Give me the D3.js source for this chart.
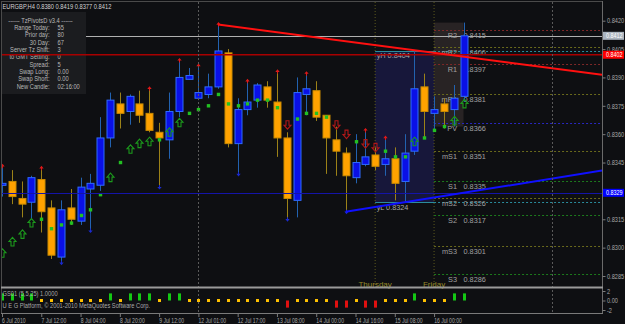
<!DOCTYPE html>
<html><head><meta charset="utf-8">
<script src="https://cdn.jsdelivr.net/npm/d3@7"></script>
<style>html,body{margin:0;padding:0;background:#0e0f12;overflow:hidden}</style>
</head><body><svg id="c" width="625" height="324"></svg>
<script>
// ---------- DATA ----------
const titleText = "EURGBP,H4  0.8380 0.8419 0.8377 0.8412";
const openP  = [0.8333,0.8335,0.8326,0.8324,0.8336,0.8321,0.8295,0.8321,0.8314,0.8331,0.8333,0.8358,0.8376,0.8372,0.8376,0.8371,0.8361,0.8357,0.8372,0.8389,0.8379,0.8381,0.8385,0.8403,0.8355,0.8373,0.8378,0.8385,0.8377,0.8358,0.8325,0.8381,0.8383,0.8370,0.8357,0.8350,0.8337,0.8344,0.8349,0.8344,0.8347,0.8335,0.8351,0.8385,0.8371,0.8376,0.8373,0.8380];
const highP  = [0.8343,0.8341,0.8335,0.8338,0.8342,0.8325,0.8325,0.8331,0.8337,0.8339,0.8369,0.8382,0.8382,0.8381,0.8383,0.8384,0.8366,0.8382,0.8399,0.8395,0.8396,0.8392,0.8418,0.8405,0.8379,0.8388,0.8387,0.8388,0.8393,0.8361,0.8390,0.8392,0.8388,0.8370,0.8364,0.8353,0.8360,0.8362,0.8353,0.8358,0.8353,0.8360,0.8404,0.8392,0.8380,0.8379,0.8386,0.8419];
const lowP   = [0.8327,0.8323,0.8316,0.8315,0.8308,0.8294,0.8292,0.8312,0.8312,0.8309,0.8330,0.8353,0.8363,0.8365,0.8366,0.8361,0.8332,0.8347,0.8369,0.8389,0.8378,0.8379,0.8384,0.8353,0.8339,0.8370,0.8374,0.8374,0.8348,0.8315,0.8316,0.8370,0.8367,0.8339,0.8338,0.8319,0.8334,0.8343,0.8341,0.8338,0.8325,0.8324,0.8349,0.8358,0.8362,0.8363,0.8364,0.8377];
const closeP = [0.8334,0.8327,0.8323,0.8337,0.8319,0.8296,0.8320,0.8315,0.8332,0.8334,0.8358,0.8378,0.8371,0.8380,0.8370,0.8362,0.8358,0.8372,0.8390,0.8391,0.8382,0.8385,0.8404,0.8355,0.8373,0.8377,0.8386,0.8378,0.8358,0.8326,0.8382,0.8384,0.8369,0.8358,0.8351,0.8338,0.8345,0.8348,0.8343,0.8347,0.8334,0.8350,0.8384,0.8372,0.8373,0.8372,0.8379,0.8412];
const sigValue = [0.8297,0.8303,0.8307,0.8313,0.8315,0.8310,0.8312,0.8313,0.8317,0.8320,0.8328,0.8337,0.8345,0.8352,0.8355,0.8356,0.8357,0.8361,0.8366,0.8371,0.8373,0.8375,0.8381,0.8376,0.8375,0.8376,0.8378,0.8378,0.8374,0.8365,0.8368,0.8371,0.8371,0.8369,0.8365,0.8360,0.8356,0.8355,0.8353,0.8351,0.8348,0.8348,0.8356,0.8358,0.8362,0.8364,0.8367,0.8376];
const gsValue = [1.5,1.5,1.5,1.5,0,0,0,0,0,0,0,1.5,0,1.5,1.5,1.5,0,1.5,1.5,0,0,0,0,0,0,0,0,0,0,-1.5,0,0,0,0,-1.5,-1.5,0,-1.5,-1.5,0,0,0,1.5,0,0,0,1.5,1.5];
const fractalUp = [0,4,15,18,20,22,25,28,31,37,39];
const fractalDown = [6,9,16,24,29,35];

const priceTicks = [0.8420,0.8405,0.8390,0.8375,0.8360,0.8345,0.8315,0.8300,0.8285];
const indTicks = [2,0,-2];
const timeTickBars = [0,4,8,12,16,20,24,28,32,36,40,44];
const timeTickLabels = ["6 Jul 2010","7 Jul 12:00","8 Jul 04:00","8 Jul 20:00","9 Jul 12:00","12 Jul 01:00","12 Jul 17:00","13 Jul 08:00","14 Jul 00:00","14 Jul 16:00","15 Jul 08:00","16 Jul 00:00"];

const bidPrice = 0.8412, redLevel = 0.8402, blueLevel = 0.8329;
const redTrend = [[22,0.8418],[47,0.8401]];
const blueTrend = [[35,0.8319],[41,0.8324]];

const pivotNames  = ["R2","mR2","R1","mR1","PV","mS1","S1","mS2","S2","mS3","S3"];
const pivotValues = [0.8415,0.8406,0.8397,0.8381,0.8366,0.8351,0.8335,0.8326,0.8317,0.8301,0.8286];
const dayStartBars = [38,44];
const dayNames = ["Thursday","Friday"];
const weekSepBars = [20,56];
const yHigh = 0.8404, yLow = 0.8324;
const todayHigh = 0.8419, todayLow = 0.8364, lastBar = 47;

const infoHeader = "------  TzPivotsD v3.4  ------";
const infoLabels = ["Range Today:","Prior day:","30 Day:","Server Tz Shift:","to GMT Setting:","Spread:","Swap Long:","Swap Short:","New Candle:"];
const infoValues = ["55","80","67","3","0","5","0.00","0.00","02:16:00"];
const indName = "GS01 (5,5,25) 1.0000";
const copyright = "U E G Platform, \u00a9 2001-2010 MetaQuotes Software Corp.";

// ---------- RENDER ----------
const SANS = "'Liberation Sans',Arial,sans-serif";
const svg = d3.select("#c");
const L = 2, R = 602, T = 2, B = 287, IB = 314;
const x = d3.scaleLinear().domain([0,61]).range([2,601]);
const y = d3.scaleLinear().domain([0.8285,0.8420]).range([276,20.7]);
const yInd = d3.scaleLinear().domain([-2,2]).range([310,291]);
const bars = d3.range(openP.length);

// narrow text via horizontal scale transform (MetaTrader-like small font)
function condense(sel, f){
  sel.each(function(){
    const xx = +(this.getAttribute("x")||0), yy = +(this.getAttribute("y")||0);
    this.setAttribute("x",0); this.setAttribute("y",0);
    this.setAttribute("transform",`translate(${xx},${yy}) scale(${f},1)`);
  });
  return sel;
}
function ntext(parent, xx, yy, str, size, fill, f, anchor){
  const t = parent.append("text").attr("x",xx).attr("y",yy).text(str)
    .attr("fill",fill).attr("font-family",SANS).attr("font-size",size).attr("text-anchor",anchor||"start");
  return condense(t, f);
}

svg.append("rect").attr("width",625).attr("height",324).attr("fill","#0e0f12");
const defs = svg.append("defs");
defs.append("clipPath").attr("id","mc").append("rect").attr("x",L).attr("y",T).attr("width",R-L).attr("height",B-T);
defs.append("clipPath").attr("id","ic").append("rect").attr("x",L).attr("y",B).attr("width",R-L).attr("height",IB-B);
const m = svg.append("g").attr("clip-path","url(#mc)");

// range boxes
m.append("rect").attr("x",x(dayStartBars[0])).attr("width",x(dayStartBars[1])-x(dayStartBars[0]))
 .attr("y",y(yHigh)).attr("height",y(yLow)-y(yHigh)).attr("fill","#17173a");
m.append("rect").attr("x",x(dayStartBars[1])).attr("width",x(lastBar)-x(dayStartBars[1]))
 .attr("y",y(todayHigh)).attr("height",y(todayLow)-y(todayHigh)).attr("fill","#282324");

// separators
m.selectAll(".ds").data(dayStartBars).join("line").attr("x1",d=>x(d)).attr("x2",d=>x(d)).attr("y1",T).attr("y2",B)
 .attr("stroke","#5c5a1e").attr("stroke-dasharray","1,2");
svg.selectAll(".ws").data(weekSepBars).join("line").attr("x1",d=>Math.round(x(d))+0.5).attr("x2",d=>Math.round(x(d))+0.5).attr("y1",T).attr("y2",IB)
 .attr("stroke","#5a5a5a").attr("stroke-dasharray","2,2");

// pivot lines
const pivColor = n => n==="PV" ? "#2828c0" : n[0]==="m" ? "#6a6a1c" : n[0]==="R" ? "#7e2828" : "#1c7a1c";
m.selectAll(".pl").data(pivotValues).join("line").attr("x1",x(dayStartBars[1])).attr("x2",R)
 .attr("y1",d=>Math.round(y(d))+0.5).attr("y2",d=>Math.round(y(d))+0.5)
 .attr("stroke",(d,i)=>pivColor(pivotNames[i])).attr("stroke-dasharray","2,2");
// yH / yL lines
[yHigh,yLow].forEach(v=>{
  const yy = Math.round(y(v))+0.5;
  m.append("line").attr("x1",x(dayStartBars[0])).attr("x2",x(dayStartBars[1])).attr("y1",yy).attr("y2",yy).attr("stroke","#2a8c9c");
  m.append("line").attr("x1",x(dayStartBars[1])).attr("x2",R).attr("y1",yy).attr("y2",yy).attr("stroke","#2a8c9c").attr("stroke-dasharray","2,2");
});
m.append("text").attr("x",x(dayStartBars[0])+1.5).attr("y",y(yHigh)+7.5).text("yH  "+yHigh.toFixed(4))
 .attr("fill","#a8a8a8").attr("font-family",SANS).attr("font-size",7.3);
m.append("text").attr("x",x(dayStartBars[0])+1.5).attr("y",y(yLow)+7.5).text("yL  "+yLow.toFixed(4))
 .attr("fill","#a8a8a8").attr("font-family",SANS).attr("font-size",7.3);

// bid line
m.append("line").attr("x1",L).attr("x2",R).attr("y1",Math.round(y(bidPrice))+0.5).attr("y2",Math.round(y(bidPrice))+0.5).attr("stroke","#b0b0b0");

// info panel
m.append("rect").attr("x",L).attr("y",12).attr("width",84).attr("height",82).attr("fill","#1b1c1f");
const infoFill = "#b8b8b8", infoSize = 7, CF = 0.82;
ntext(m, 40.5, 22.5, infoHeader, infoSize, infoFill, CF, "middle");
infoLabels.forEach((t,i)=>{
  const yy = 29.8 + 7.35*i;
  ntext(m, 49.5, yy, t, infoSize, infoFill, CF, "end");
  ntext(m, 57.5, yy, infoValues[i], infoSize, infoFill, CF, "start");
});

// pivot labels
pivotValues.forEach((v,i)=>{
  m.append("text").attr("x",457).attr("y",y(v)+8).attr("text-anchor","end").text(pivotNames[i])
   .attr("fill","#a0a0a0").attr("font-family",SANS).attr("font-size",7.3);
  m.append("text").attr("x",463.5).attr("y",y(v)+8).text(v.toFixed(4))
   .attr("fill","#a0a0a0").attr("font-family",SANS).attr("font-size",7.3);
});

// candles
const bull = i => closeP[i] >= openP[i];
m.selectAll(".wk").data(bars).join("line")
 .attr("x1",i=>Math.round(x(i))+0.5).attr("x2",i=>Math.round(x(i))+0.5)
 .attr("y1",i=>y(highP[i])).attr("y2",i=>y(lowP[i]))
 .attr("stroke",i=>bull(i)?"#2262b0":"#9c8218").attr("stroke-width",1);
m.selectAll(".bd").data(bars).join("rect")
 .attr("x",i=>Math.round(x(i))-3).attr("width",7)
 .attr("y",i=>y(Math.max(openP[i],closeP[i])))
 .attr("height",i=>Math.max(2,Math.abs(y(openP[i])-y(closeP[i]))))
 .attr("fill",i=>bull(i)?"#0a10e6":"#ffa200")
 .attr("stroke",i=>bull(i)?"#2f6cff":"#c88a00").attr("stroke-width",1);

// signal dots / arrows
const upArrow = "M0,-4.5 L3.5,-0.5 L1.5,-0.5 L1.5,4 L-1.5,4 L-1.5,-0.5 L-3.5,-0.5 Z";
const dnArrow = "M0,4.5 L3.5,0.5 L1.5,0.5 L1.5,-4 L-1.5,-4 L-1.5,0.5 L-3.5,0.5 Z";
bars.forEach(i=>{
  const cx = Math.round(x(i))+0.5, cy = y(sigValue[i]);
  if (gsValue[i] > 0) m.append("path").attr("d",upArrow).attr("transform",`translate(${cx},${cy})`).attr("fill","none").attr("stroke","#1c9a1c").attr("stroke-width",1.1);
  else if (gsValue[i] < 0) m.append("path").attr("d",dnArrow).attr("transform",`translate(${cx},${cy})`).attr("fill","none").attr("stroke","#b01818").attr("stroke-width",1.1);
  else m.append("rect").attr("x",cx-1.7).attr("y",cy-1.7).attr("width",3.4).attr("height",3.4).attr("fill","#22c022");
});
// fractals
m.selectAll(".fu").data(fractalUp).join("path")
 .attr("d","M0,-1.5 L2.2,1.2 L-2.2,1.2 Z M-0.5,1 L0.5,1 L0.5,3 L-0.5,3 Z")
 .attr("transform",i=>`translate(${Math.round(x(i))+0.5},${y(highP[i])-1})`).attr("fill","#e01818");
m.selectAll(".fd").data(fractalDown).join("path")
 .attr("d","M0,1.5 L2.2,-1.2 L-2.2,-1.2 Z M-0.5,-1 L0.5,-1 L0.5,-3 L-0.5,-3 Z")
 .attr("transform",i=>`translate(${Math.round(x(i))+0.5},${y(lowP[i])+1})`).attr("fill","#1a2ad0");

// horizontal objects
m.append("line").attr("x1",L).attr("x2",R).attr("y1",y(redLevel)).attr("y2",y(redLevel)).attr("stroke","#a80000").attr("stroke-width",1.6);
m.append("line").attr("x1",L).attr("x2",R).attr("y1",Math.round(y(blueLevel))+0.5).attr("y2",Math.round(y(blueLevel))+0.5).attr("stroke","#1414a8").attr("stroke-width",1);
// trend rays
function ray(pts,color){
  const [a,b] = pts; const slope = (b[1]-a[1])/(b[0]-a[0]);
  const xe = x.invert(R); const pe = a[1] + slope*(xe-a[0]);
  m.append("line").attr("x1",x(a[0])).attr("y1",y(a[1])).attr("x2",x(xe)).attr("y2",y(pe)).attr("stroke",color).attr("stroke-width",2);
}
ray(redTrend,"#ff1010");
ray(blueTrend,"#1010ff");

// day names
dayStartBars.forEach((b,i)=>{
  svg.append("text").attr("x",x(b)).attr("y",286.5).attr("text-anchor","middle").text(dayNames[i])
   .attr("fill","#968a2a").attr("font-family",SANS).attr("font-size",8);
});

// title
ntext(svg, 2.5, 8.5, titleText, 7, "#d4d4d4", CF, "start");

// indicator panel
const ind = svg.append("g").attr("clip-path","url(#ic)");
bars.forEach(i=>{
  const cx = Math.round(x(i));
  if (gsValue[i] === 0) ind.append("rect").attr("x",cx-1).attr("y",yInd(0)-1.5).attr("width",3).attr("height",3).attr("fill","#ffc000");
  else ind.append("rect").attr("x",cx-1).attr("width",3)
        .attr("y",Math.min(yInd(0),yInd(gsValue[i]))).attr("height",Math.abs(yInd(gsValue[i])-yInd(0)))
        .attr("fill",gsValue[i]>0?"#14c814":"#e01010");
});
ntext(svg, 2.5, 295.8, indName, 7, "#a8a8a8", CF, "start");
ntext(svg, 2.5, 307.6, copyright, 7, "#a8a8a8", CF, "start");

// frame
svg.append("line").attr("x1",1.5).attr("x2",1.5).attr("y1",1).attr("y2",IB).attr("stroke","#4a4a4a");
svg.append("line").attr("x1",1).attr("x2",R).attr("y1",1.5).attr("y2",1.5).attr("stroke","#4a4a4a");
svg.append("line").attr("x1",R+0.5).attr("x2",R+0.5).attr("y1",1).attr("y2",IB).attr("stroke","#6a6a6a");
svg.append("line").attr("x1",1).attr("x2",R+1).attr("y1",B+0.5).attr("y2",B+0.5).attr("stroke","#9a9a9a").attr("stroke-width",2);
svg.append("line").attr("x1",1).attr("x2",R+1).attr("y1",IB-0.5).attr("y2",IB-0.5).attr("stroke","#7a7a7a");

// axes
function styleAxis(g,fs){
  g.select(".domain").remove();
  g.selectAll(".tick line").attr("stroke","#7a7a7a");
  g.selectAll("text").attr("fill","#a8a8a8").attr("font-family",SANS).attr("font-size",fs);
}
const pa = svg.append("g").attr("transform",`translate(${R+0.5},0)`)
 .call(d3.axisRight(y).tickValues(priceTicks).tickFormat(d=>d.toFixed(4)).tickSize(3).tickPadding(1.5));
styleAxis(pa,7); condense(pa.selectAll("text"), 0.8);
const ia = svg.append("g").attr("transform",`translate(${R+0.5},0)`)
 .call(d3.axisRight(yInd).tickValues(indTicks).tickFormat(d=>d===0?"0.00":String(d)).tickSize(3).tickPadding(1.5));
styleAxis(ia,7); condense(ia.selectAll("text"), 0.8);
const ta = svg.append("g").attr("transform",`translate(0,${IB})`)
 .call(d3.axisBottom(x).tickValues(timeTickBars).tickFormat((d,i)=>timeTickLabels[i]).tickSize(3).tickPadding(1));
styleAxis(ta,6.6);
ta.selectAll("text").attr("text-anchor","start").attr("dx",-0.5);
condense(ta.selectAll("text"), 0.77);

// price tags on axis
[[bidPrice,"#aab4be","#ffffff"],[redLevel,"#ff0000","#ffffff"],[blueLevel,"#0000ff","#ffffff"]].forEach(([v,bg,fg])=>{
  const yy = y(v);
  svg.append("rect").attr("x",R+1).attr("y",yy-4).attr("width",21).attr("height",8).attr("fill",bg);
  ntext(svg, R+4, yy+2.3, v.toFixed(4), 6.6, fg, 0.82, "start");
});
</script></body></html>
